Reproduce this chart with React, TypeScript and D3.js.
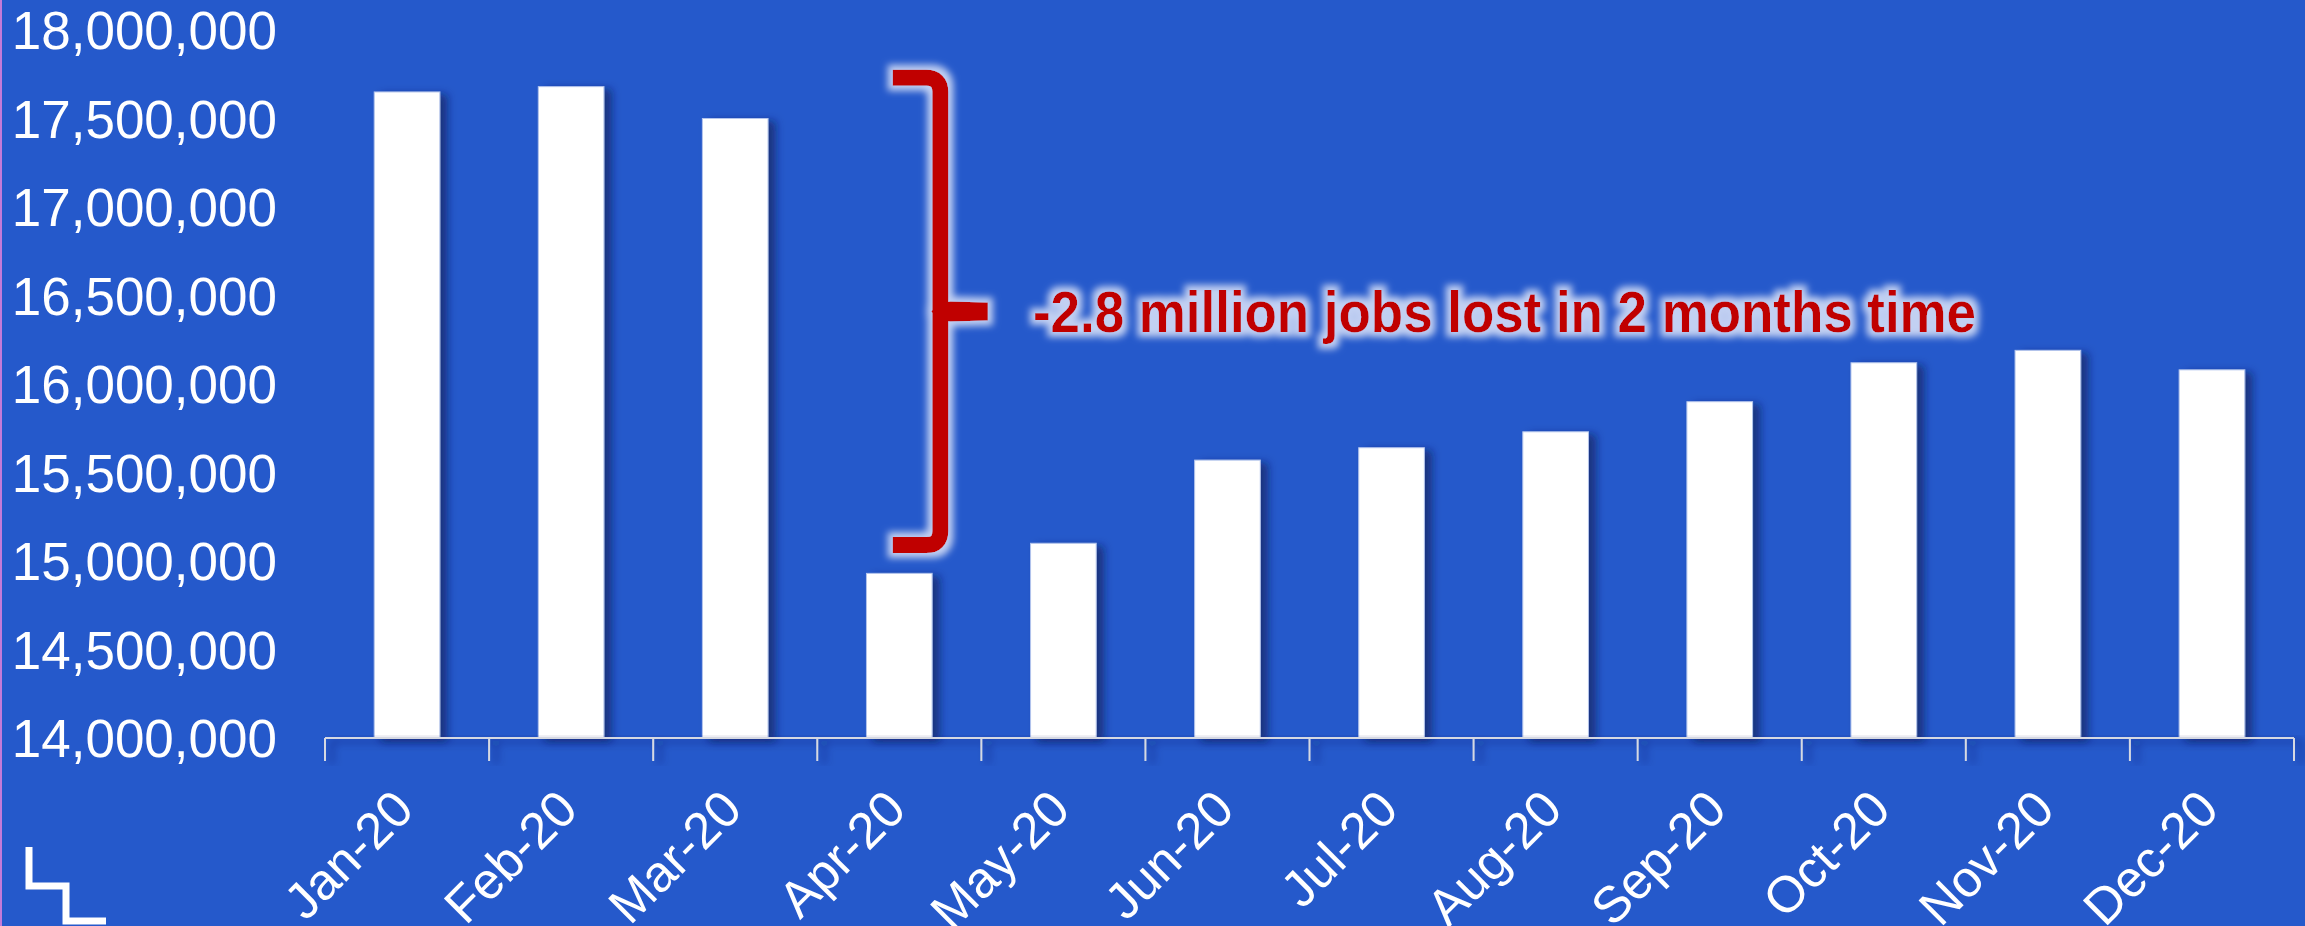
import React from "react";
import * as d3 from "d3";

const months = ["Jan-20","Feb-20","Mar-20","Apr-20","May-20","Jun-20","Jul-20","Aug-20","Sep-20","Oct-20","Nov-20","Dec-20"];
const jobs = [17650000,17680000,17500000,14930000,15100000,15570000,15640000,15730000,15900000,16120000,16190000,16080000];
const yTicks = [14000000,14500000,15000000,15500000,16000000,16500000,17000000,17500000,18000000];
const braceTop = 17730000;
const braceBottom = 15090000;
const braceMonth = "Apr-20";
const annotation = "-2.8 million jobs lost in 2 months time";

const W = 2305, H = 926;
const BG = "#2559CB";
const FONT = "'Liberation Sans', Arial, sans-serif";

export default function App() {
  const x = d3.scaleBand<string>().domain(months).range([325, 2294]).paddingInner(0.6).paddingOuter(0.3);
  const y = d3.scaleLinear().domain([14000000, 18000000]).range([738, 30]);
  const fmt = d3.format(",");
  const step = x.step();
  const x0 = x.range()[0];
  const boundaries = d3.range(months.length + 1).map(i => x0 + i * step);

  const bandStart = (x(braceMonth) as number) - step * 0.3;
  const xV = bandStart + step * 0.75;
  const capL = bandStart + step * 0.46;
  const tipR = bandStart + step * 1.04;
  const yT = y(braceTop), yB = y(braceBottom), yM = (yT + yB) / 2;
  const r = 14;
  const bracePath = `M${capL},${yT} H${xV - r} Q${xV},${yT} ${xV},${yT + r} V${yB - r} Q${xV},${yB} ${xV - r},${yB} H${capL}`;
  const tipPath = `M${xV - 9},${yM} Q${xV - 2},${yM - 9} ${xV + 10},${yM - 10} L${tipR},${yM - 9} V${yM + 9} L${xV + 10},${yM + 10} Q${xV - 2},${yM + 9} ${xV - 9},${yM} Z`;

  return (
    <svg width={W} height={H} style={{ position: "fixed", left: 0, top: 0, display: "block" }} xmlns="http://www.w3.org/2000/svg">
      <defs>
        <filter id="shadow" x="-30%" y="-10%" width="160%" height="130%">
          <feDropShadow dx="7" dy="3" stdDeviation="4" floodColor="#0b1d55" floodOpacity="0.65" />
        </filter>
        <filter id="glow" x="-20%" y="-20%" width="140%" height="140%">
          <feMorphology in="SourceAlpha" operator="dilate" radius="5" result="d" />
          <feGaussianBlur in="d" stdDeviation="3.5" result="b" />
          <feFlood floodColor="#c2d0f2" />
          <feComposite in2="b" operator="in" result="g" />
          <feMerge>
            <feMergeNode in="g" />
            <feMergeNode in="SourceGraphic" />
          </feMerge>
        </filter>
      </defs>
      <rect x={0} y={0} width={W} height={H} fill={BG} />
      <rect x={0} y={0} width={2} height={H} fill="#c47ad8" />

      {/* y tick labels */}
      {yTicks.map(t => (
        <text key={t} x={277} y={y(t)} dy="0.36em" textAnchor="end" fill="#ffffff" fontFamily={FONT} fontSize={53}>
          {fmt(t)}
        </text>
      ))}

      {/* bars */}
      <g filter="url(#shadow)">
        {months.map((m, i) => (
          <rect key={m} x={x(m)} y={y(jobs[i])} width={x.bandwidth()} height={y(14000000) - y(jobs[i])}
            fill="#ffffff" stroke="#b3c4ec" strokeWidth={1} />
        ))}
      </g>

      {/* x axis */}
      <g filter="url(#shadow)">
        <line x1={x0} x2={boundaries[boundaries.length - 1]} y1={y(14000000)} y2={y(14000000)} stroke="#d6d9e2" strokeWidth={2} />
        {boundaries.map((b, i) => (
          <line key={i} x1={b} x2={b} y1={y(14000000)} y2={y(14000000) + 23} stroke="#d6d9e2" strokeWidth={2} />
        ))}
      </g>
      {months.map(m => {
        const cx = (x(m) as number) + x.bandwidth() / 2 + 9;
        const cy = 812;
        return (
          <text key={m} x={cx} y={cy} textAnchor="end" transform={`rotate(-45 ${cx} ${cy})`} fill="#ffffff" fontFamily={FONT} fontSize={51}>
            {m}
          </text>
        );
      })}

      {/* brace annotation */}
      <g filter="url(#glow)">
        <path d={bracePath} fill="none" stroke="#c00000" strokeWidth={16} />
        <path d={tipPath} fill="#c00000" stroke="none" />
      </g>
      <text x={1033} y={yM + 21} fill="#c00000" fontFamily={FONT} fontWeight="bold" fontSize={57}
        textLength={943} lengthAdjust="spacingAndGlyphs" filter="url(#glow)">
        {annotation}
      </text>

      {/* corner icon */}
      <path d="M29,847 V886 H66 V921 H106" fill="none" stroke="#ffffff" strokeWidth={7} />
    </svg>
  );
}
